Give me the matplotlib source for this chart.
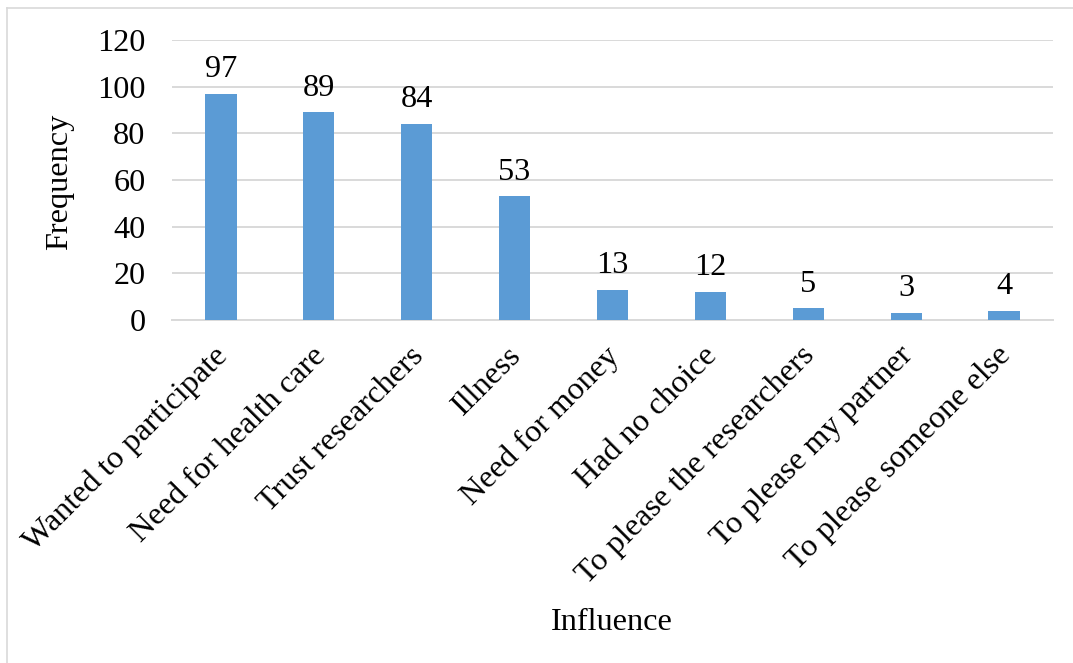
import matplotlib
matplotlib.use("Agg")
import matplotlib.pyplot as plt
import matplotlib.transforms as mtransforms
from matplotlib.lines import Line2D

categories = [
    "Wanted to participate",
    "Need for health care",
    "Trust researchers",
    "Illness",
    "Need for money",
    "Had no choice",
    "To please the researchers",
    "To please my partner",
    "To please someone else",
]
frequency = [97, 89, 84, 53, 13, 12, 5, 3, 4]
y_ticks = [0, 20, 40, 60, 80, 100, 120]

plt.rcParams["font.family"] = ["Liberation Serif", "DejaVu Serif"]

W, H = 1073, 663
FS = 23.2
fig = plt.figure(figsize=(W / 100, H / 100), dpi=100)
ax = fig.add_axes([172 / W, 1 - 320 / H, (1053 - 172) / W, (320 - 40) / H])

bar_color = "#5B9BD5"
grid_color = "#D9D9D9"

x = range(len(categories))
ax.bar(x, frequency, width=0.32, color=bar_color, zorder=3)
for xi, v in zip(x, frequency):
    ax.annotate(str(v), (xi, v), xytext=(0, 7), textcoords="offset points",
                ha="center", va="bottom", fontsize=FS, color="black")

ax.set_xlim(-0.5, len(categories) - 0.5)
ax.set_ylim(0, 120)
ax.set_yticks(y_ticks)
ax.set_yticklabels([str(t) for t in y_ticks], fontsize=FS)
ax.yaxis.grid(True, color=grid_color, linewidth=1.4, zorder=0)
ax.set_axisbelow(True)
for s in ["top", "right", "left"]:
    ax.spines[s].set_visible(False)
ax.spines["bottom"].set_color(grid_color)
ax.spines["bottom"].set_linewidth(1.4)
ax.tick_params(axis="both", length=0)
ax.tick_params(axis="y", pad=19)

ax.set_xticks(list(x))
ax.set_xticklabels(categories, rotation=45, ha="right", va="top",
                   rotation_mode="anchor", fontsize=FS)
ax.tick_params(axis="x", pad=11)
shift = mtransforms.ScaledTranslation(-0.08, -0.06, fig.dpi_scale_trans)
for lbl in ax.get_xticklabels():
    lbl.set_transform(lbl.get_transform() + shift)

fig.text(60 / W, 1 - 182 / H, "Frequency", ha="center", va="center",
         rotation=90, fontsize=FS)
fig.text(612 / W, 1 - 622 / H, "Influence", ha="center", va="center", fontsize=FS)

# chart-area border (top and left edges)
fig.add_artist(Line2D([6.5 / W, 6.5 / W], [0, 1 - 8 / H], transform=fig.transFigure,
                      color=grid_color, linewidth=1.2))
fig.add_artist(Line2D([6.5 / W, 1], [1 - 8 / H, 1 - 8 / H], transform=fig.transFigure,
                      color=grid_color, linewidth=1.2))

fig.savefig("out.png", dpi=100, facecolor="white")
